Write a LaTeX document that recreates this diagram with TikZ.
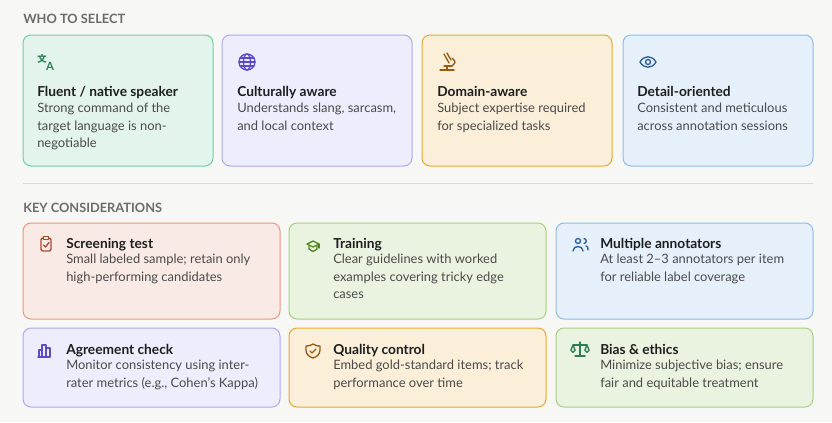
\documentclass[tikz,border=0pt]{standalone}
\usepackage{fontspec}
\setmainfont{Lato}
\newfontfamily\cjk{Noto Sans CJK SC}
\definecolor{bg}{HTML}{F7F7F5}
\definecolor{gF}{HTML}{E3F4EC}\definecolor{gD}{HTML}{6FCFA0}\definecolor{gI}{HTML}{2E7D55}
\definecolor{pF}{HTML}{EEEDFD}\definecolor{pD}{HTML}{B0A8F0}\definecolor{pI}{HTML}{5B4BC8}
\definecolor{oF}{HTML}{FBEFD9}\definecolor{oD}{HTML}{E8A830}\definecolor{oI}{HTML}{9A5A10}
\definecolor{bF}{HTML}{E6F0FB}\definecolor{bD}{HTML}{90BCEA}\definecolor{bI}{HTML}{2A5E9A}
\definecolor{sF}{HTML}{F9EAE5}\definecolor{sD}{HTML}{E89880}\definecolor{sI}{HTML}{A84A2A}
\definecolor{lF}{HTML}{EAF3DF}\definecolor{lD}{HTML}{A8D080}\definecolor{lI}{HTML}{4A8A1A}
\definecolor{tt}{HTML}{1E1E1E}\definecolor{dd}{HTML}{4A4A4A}\definecolor{hd}{HTML}{6B6B6B}
\begin{document}
\begin{tikzpicture}[x=0.75pt,y=-0.75pt,
 card/.style={draw=#1D,fill=#1F,rounded corners=6pt,line width=0.75pt},
 head/.style={anchor=base west,inner sep=0,text=hd,font=\fontsize{9.6}{11}\selectfont\bfseries},
 ttl/.style={anchor=base west,inner sep=0,text=tt,font=\fontsize{10.3}{12}\selectfont\bfseries},
 dsc/.style={anchor=north west,inner sep=0,text=dd,align=left,font=\fontsize{9.7}{13.2}\selectfont},
 ic/.style={line width=1pt,line cap=round,line join=round}]
\fill[bg] (0,0) rectangle (832,422);
\useasboundingbox (0,0) rectangle (832,422);
\node[head] (h1) at (23,23) {WHO TO SELECT};
\node[head] (h2) at (23,212) {KEY CONSIDERATIONS};
\coordinate (s1) at (23,183); \coordinate (s2) at (813,183);
\draw[color=black!15,line width=0.75pt] (s1) -- (s2);
% top row
\foreach \x/\c/\n in {23/g/a,222/p/b,422/o/c,623/b/d}{
 \draw[card=\c] (\x,35) rectangle ++(190,131);
}
\node[ttl] (ta) at (37,96) {Fluent / native speaker};
\node[dsc] (da) at (37,103) {Strong command of the\\target language is non-\\negotiable};
\node[ttl] (tb) at (237,96) {Culturally aware};
\node[dsc] (db) at (237,103) {Understands slang, sarcasm,\\and local context};
\node[ttl] (tc) at (437,96) {Domain-aware};
\node[dsc] (dc) at (437,103) {Subject expertise required\\for specialized tasks};
\node[ttl] (td) at (637,96) {Detail-oriented};
\node[dsc] (dd) at (637,103) {Consistent and meticulous\\across annotation sessions};
% icons top
\node[inner sep=0,text=gI,font=\cjk\fontsize{7}{7}\selectfont\bfseries] (ia) at (42,59) {文};
\node[inner sep=0,text=gI,font=\fontsize{8.5}{8}\selectfont\bfseries] (ia2) at (50,66) {A};
\begin{scope}[ic,draw=pI]
\draw (247,62) circle (8); \draw (247,62) ellipse (3.5 and 8);
\draw (239,62)--(255,62); \draw (240,58)--(254,58); \draw (240,66)--(254,66);
\end{scope}
\begin{scope}[ic,draw=oI]
\draw (440,70)--(454,70); \draw (447,70)--(447,67); \draw (444,54)--(449,63);\draw (447,53)--(451,60);
\draw (444,66)--(452,66); \draw (452,66) .. controls (456,62) .. (452,58);
\end{scope}
\begin{scope}[ic,draw=bI]
\draw (640,62) .. controls (644,55) and (652,55) .. (656,62) .. controls (652,69) and (644,69) .. (640,62);
\draw (648,62) circle (2.5);
\end{scope}
% rows 2,3
\foreach \x/\c in {23/s,289/l,556/b}{\draw[card=\c] (\x,223) rectangle ++(257,96);}
\foreach \x/\c in {23/p,289/o,556/l}{\draw[card=\c] (\x,328) rectangle ++(257,79);}
\node[ttl] (te) at (66,248) {Screening test};
\node[dsc] (de) at (66,254) {Small labeled sample; retain only\\high-performing candidates};
\node[ttl] (tf) at (333,248) {Training};
\node[dsc] (df) at (333,254) {Clear guidelines with worked\\examples covering tricky edge\\cases};
\node[ttl] (tg) at (600,248) {Multiple annotators};
\node[dsc] (dg) at (600,254) {At least 2–3 annotators per item\\for reliable label coverage};
\node[ttl] (th) at (66,354) {Agreement check};
\node[dsc] (dh) at (66,360) {Monitor consistency using inter-\\rater metrics (e.g., Cohen’s Kappa)};
\node[ttl] (ti) at (333,354) {Quality control};
\node[dsc] (di) at (333,360) {Embed gold-standard items; track\\performance over time};
\node[ttl] (tj) at (600,354) {Bias \& ethics};
\node[dsc] (dj) at (600,360) {Minimize subjective bias; ensure\\fair and equitable treatment};
% icons rows
\begin{scope}[ic,draw=sI]
\draw[rounded corners=1.5pt] (41,238) rectangle (51,251); \draw[fill=sF] (43.5,236.5) rectangle (48.5,239.5);
\draw (43.5,245)--(45.5,247)--(49,242.5);
\end{scope}
\begin{scope}[ic,draw=lI]
\draw (307,244)--(313,241)--(319,244)--(313,247)--cycle; \draw (309,246)--(309,249) .. controls (313,252) .. (317,249)--(317,246); \draw (319,244)--(319,248);
\end{scope}
\begin{scope}[ic,draw=bI]
\draw (578,241) circle (2.5); \draw (573,251) .. controls (573,245) and (583,245) .. (583,251);
\draw (584,238.5) .. controls (587,239) and (587,243) .. (584,243.5); \draw (586,246) .. controls (588,247) .. (588,250);
\end{scope}
\begin{scope}[ic,draw=pI]
\draw (39,357)--(39,350)--(42,350)--(42,357); \draw (42,357)--(42,345)--(46,345)--(46,357); \draw (46,357)--(46,348)--(50,348)--(50,357)--(38,357);
\end{scope}
\begin{scope}[ic,draw=oI]
\draw (313,344) .. controls (309,346) .. (306,346) -- (306,350) .. controls (306,355) and (310,357) .. (313,358) .. controls (316,357) and (320,355) .. (320,350) -- (320,346) .. controls (317,346) .. (313,344);
\draw (310,351)--(312,353)--(316,349);
\end{scope}
\begin{scope}[ic,draw=gI]
\draw (580,342)--(580,356); \draw (575,356)--(585,356); \draw (573,345)--(587,345);
\draw (571,350)--(573,345)--(575,350); \draw (571,350) .. controls (573,353) .. (575,350);
\draw (585,350)--(587,345)--(589,350); \draw (585,350) .. controls (587,353) .. (589,350);
\end{scope}
\end{tikzpicture}
\end{document}
